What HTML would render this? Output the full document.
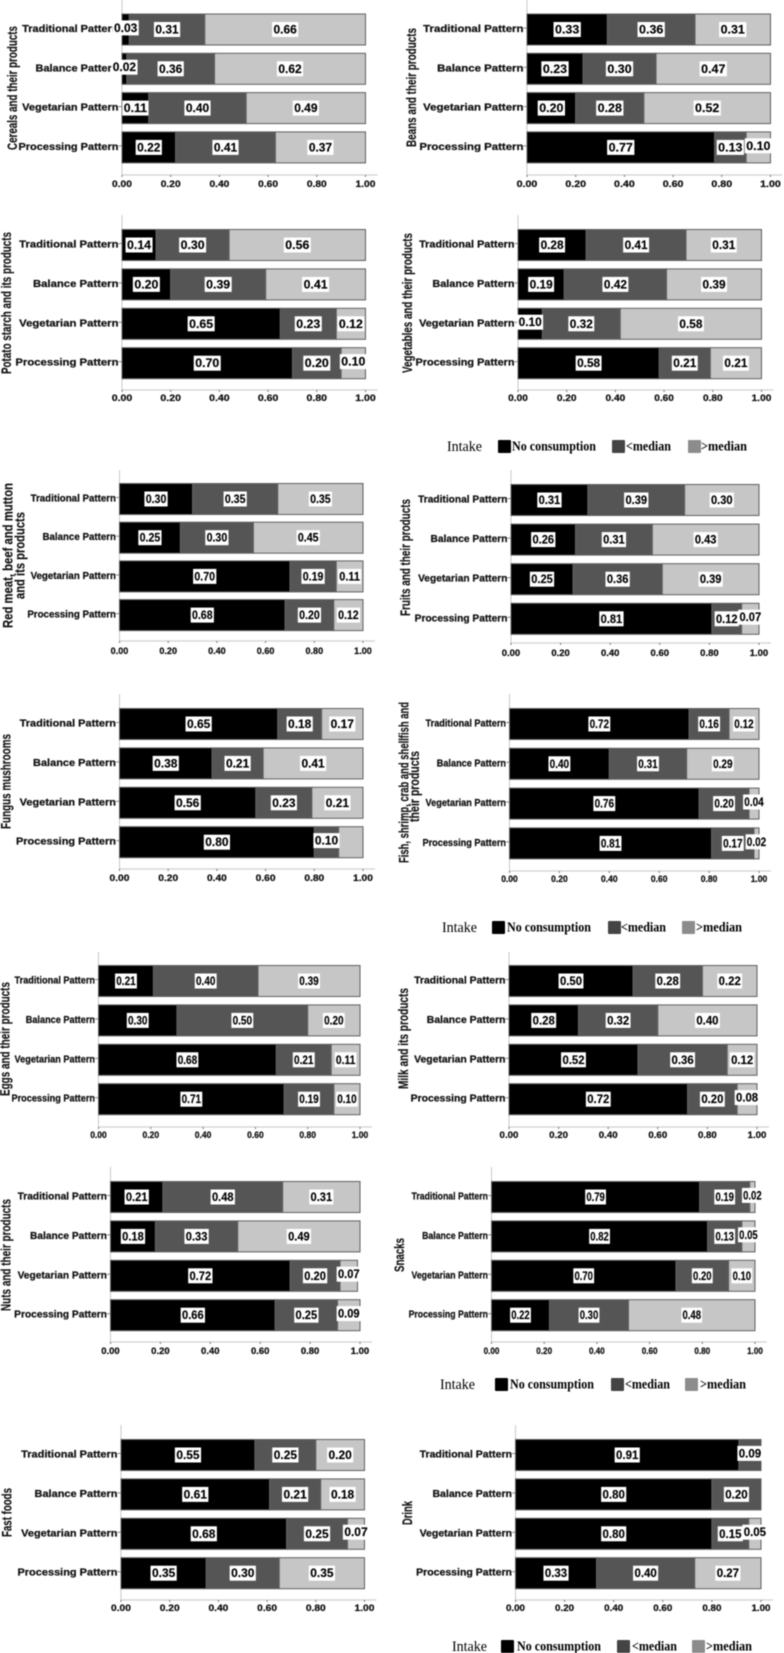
<!DOCTYPE html>
<html lang="en">
<head>
<meta charset="utf-8">
<title>Food intake by dietary pattern</title>
<style>
html,body{margin:0;padding:0;background:#fff;}
#figure{display:block;filter:blur(0.4px);}
text{font-family:"Liberation Sans",sans-serif;fill:#000;}
.cat{font-size:9.8px;font-weight:700;text-anchor:end;dominant-baseline:central;fill:#111;stroke:#111;stroke-width:.25px;}
.tick{font-size:9.3px;font-weight:700;text-anchor:middle;dominant-baseline:central;fill:#111;stroke:#111;stroke-width:.25px;}
.val{font-size:12px;font-weight:700;text-anchor:middle;dominant-baseline:central;stroke:#000;stroke-width:.15px;}
.ytitle{font-size:13.5px;font-weight:700;text-anchor:middle;fill:#111;stroke:#111;stroke-width:.15px;}
.leg{font-family:"Liberation Serif",serif;font-size:14px;font-weight:700;dominant-baseline:central;}
.legt{font-family:"Liberation Serif",serif;font-size:15px;dominant-baseline:central;}
</style>
</head>
<body>
<svg id="figure" xmlns="http://www.w3.org/2000/svg" width="784" height="1653" viewBox="0 0 784 1653"></svg>
<script>
const categories = ['Traditional Pattern', 'Balance Pattern', 'Vegetarian Pattern', 'Processing Pattern'];
const seriesNames = ['No consumption', '<median', '>median'];
const tickValues = [0, 0.2, 0.4, 0.6, 0.8, 1];

const cerealsNone = [0.03, 0.02, 0.11, 0.22];
const cerealsBelow = [0.31, 0.36, 0.40, 0.41];
const cerealsAbove = [0.66, 0.62, 0.49, 0.37];
const beansNone = [0.33, 0.23, 0.20, 0.77];
const beansBelow = [0.36, 0.30, 0.28, 0.13];
const beansAbove = [0.31, 0.47, 0.52, 0.10];
const potatoNone = [0.14, 0.20, 0.65, 0.70];
const potatoBelow = [0.30, 0.39, 0.23, 0.20];
const potatoAbove = [0.56, 0.41, 0.12, 0.10];
const vegetablesNone = [0.28, 0.19, 0.10, 0.58];
const vegetablesBelow = [0.41, 0.42, 0.32, 0.21];
const vegetablesAbove = [0.31, 0.39, 0.58, 0.21];
const redMeatNone = [0.30, 0.25, 0.70, 0.68];
const redMeatBelow = [0.35, 0.30, 0.19, 0.20];
const redMeatAbove = [0.35, 0.45, 0.11, 0.12];
const fruitsNone = [0.31, 0.26, 0.25, 0.81];
const fruitsBelow = [0.39, 0.31, 0.36, 0.12];
const fruitsAbove = [0.30, 0.43, 0.39, 0.07];
const fungusNone = [0.65, 0.38, 0.56, 0.80];
const fungusBelow = [0.18, 0.21, 0.23, 0.10];
const fungusAbove = [0.17, 0.41, 0.21, 0.10];
const fishNone = [0.72, 0.40, 0.76, 0.81];
const fishBelow = [0.16, 0.31, 0.20, 0.17];
const fishAbove = [0.12, 0.29, 0.04, 0.02];
const eggsNone = [0.21, 0.30, 0.68, 0.71];
const eggsBelow = [0.40, 0.50, 0.21, 0.19];
const eggsAbove = [0.39, 0.20, 0.11, 0.10];
const milkNone = [0.50, 0.28, 0.52, 0.72];
const milkBelow = [0.28, 0.32, 0.36, 0.20];
const milkAbove = [0.22, 0.40, 0.12, 0.08];
const nutsNone = [0.21, 0.18, 0.72, 0.66];
const nutsBelow = [0.48, 0.33, 0.20, 0.25];
const nutsAbove = [0.31, 0.49, 0.07, 0.09];
const snacksNone = [0.79, 0.82, 0.70, 0.22];
const snacksBelow = [0.19, 0.13, 0.20, 0.30];
const snacksAbove = [0.02, 0.05, 0.10, 0.48];
const fastFoodsNone = [0.55, 0.61, 0.68, 0.35];
const fastFoodsBelow = [0.25, 0.21, 0.25, 0.30];
const fastFoodsAbove = [0.20, 0.18, 0.07, 0.35];
const drinkNone = [0.91, 0.80, 0.80, 0.33];
const drinkBelow = [0.09, 0.20, 0.15, 0.40];
const drinkAbove = [0, 0, 0.05, 0.27];

const panels = [
  {id:'cereals', s:[cerealsNone,cerealsBelow,cerealsAbove], w:97, x0:122, x1:365.5, r0:29.5, step:39.3, axis:175, tick:184, top:0, titles:[{t:'Cereals and their products',x:17,a:26,b:150}], raised:['0:0','1:0']},
  {id:'beans', s:[beansNone,beansBelow,beansAbove], w:101, x0:527, x1:770.5, r0:29.5, step:39.3, axis:175, tick:184, top:0, titles:[{t:'Beans and their products',x:416,a:28,b:147}], raised:['3:2']},
  {id:'potato-starch', s:[potatoNone,potatoBelow,potatoAbove], w:100, x0:122, x1:365.5, r0:245, step:39.4, axis:390, tick:398, top:215, titles:[{t:'Potato starch and its products',x:11,a:232,b:374}], raised:['3:2']},
  {id:'vegetables', s:[vegetablesNone,vegetablesBelow,vegetablesAbove], w:96, x0:518, x1:761.5, r0:245, step:39.4, axis:390, tick:398, top:215, titles:[{t:'Vegetables and their products',x:412,a:233,b:373}], raised:['2:0']},
  {id:'red-meat', s:[redMeatNone,redMeatBelow,redMeatAbove], w:86, x0:119.5, x1:363, r0:499, step:38.7, axis:641, tick:651, top:470, titles:[{t:'Red meat, beef and mutton',x:12.5,a:483,b:628},{t:'and its products',x:24.5,a:512,b:599}], raised:[]},
  {id:'fruits', s:[fruitsNone,fruitsBelow,fruitsAbove], w:90, x0:511, x1:759, r0:500, step:39.6, axis:643, tick:653, top:470, titles:[{t:'Fruits and their products',x:410,a:499,b:616}], raised:['3:2']},
  {id:'fungus', s:[fungusNone,fungusBelow,fungusAbove], w:97, x0:119.5, x1:363, r0:724, step:39.4, axis:869, tick:878, top:694, titles:[{t:'Fungus mushrooms',x:10.5,a:734,b:829}], raised:['3:1'], hidden:['3:2']},
  {id:'fish', s:[fishNone,fishBelow,fishAbove], w:81, x0:509.5, x1:759, r0:724, step:39.8, axis:871, tick:879, top:694, titles:[{t:'Fish, shrimp, crab and shellfish and',x:408.5,a:702,b:863},{t:'their products',x:419,a:751,b:822}], raised:['2:2','3:2']},
  {id:'eggs', s:[eggsNone,eggsBelow,eggsAbove], w:81, x0:98.5, x1:360, r0:981, step:39.4, axis:1127, tick:1135, top:952, titles:[{t:'Eggs and their products',x:9.5,a:982,b:1096}], raised:[]},
  {id:'milk', s:[milkNone,milkBelow,milkAbove], w:92, x0:509, x1:757, r0:981, step:39.4, axis:1127, tick:1135, top:952, titles:[{t:'Milk and its products',x:408,a:988,b:1089}], raised:['3:2']},
  {id:'nuts', s:[nutsNone,nutsBelow,nutsAbove], w:90, x0:110.5, x1:360, r0:1197, step:39.4, axis:1342, tick:1351, top:1167, titles:[{t:'Nuts and their products',x:10.5,a:1199,b:1311}], raised:['2:2','3:2']},
  {id:'snacks', s:[snacksNone,snacksBelow,snacksAbove], w:77, x0:491.5, x1:755, r0:1197, step:39.4, axis:1342, tick:1351, top:1167, titles:[{t:'Snacks',x:404,a:1238,b:1272}], raised:['0:2','1:2']},
  {id:'fast-foods', s:[fastFoodsNone,fastFoodsBelow,fastFoodsAbove], w:97, x0:121, x1:364.5, r0:1455, step:39.4, axis:1600, tick:1608, top:1425, titles:[{t:'Fast foods',x:11.5,a:1488,b:1537}], raised:['2:2']},
  {id:'drink', s:[drinkNone,drinkBelow,drinkAbove], w:93, x0:515.5, x1:761, r0:1455, step:39.4, axis:1600, tick:1608, top:1425, titles:[{t:'Drink',x:412,a:1501,b:1525}], raised:['0:1','2:2']}
];

const legends = [
  {y:447, intake:447, s:[498,612,688], l:[512,626,701]},
  {y:928, intake:442, s:[492,608,682], l:[507,621,696]},
  {y:1385, intake:440, s:[495,611,685], l:[510,625,700]},
  {y:1647, intake:452, s:[501,617,692], l:[517,632,706]}
];

const barColors = ['#000000', '#555555', '#c6c6c6'];
const legendColors = ['#000000', '#444444', '#8c8c8c'];
const legendWidths = [84, 45, 46];

const svg = document.getElementById('figure');
const NS = 'http://www.w3.org/2000/svg';

function make(tag, parent) {
  const el = document.createElementNS(NS, tag);
  parent.appendChild(el);
  return el;
}
function setAll(el, props) {
  for (const k in props) el.setAttribute(k, props[k]);
}

panels.forEach(function (p) {
  const xScale = function (v) { return p.x0 + (p.x1 - p.x0) * v; };
  const yScale = function (i) { return p.r0 + p.step * i; };
  const sx = p.w / 100;

  const g = make('g', svg);
  
  

  const yAxis = make('line', g);
  
  
  setAll(yAxis, {x1:p.x0, x2:p.x0, y1:p.top, y2:p.axis, stroke:'#c8c8c8', 'stroke-width':1});

  const xAxis = make('line', g);
  
  
  setAll(xAxis, {x1:p.x0, x2:p.x1 + 12, y1:p.axis, y2:p.axis, stroke:'#d0d0d0', 'stroke-width':1.2});

  tickValues.forEach(function (v) {
    const mark = make('line', g);
    
    
    setAll(mark, {x1:xScale(v), x2:xScale(v), y1:p.axis, y2:p.axis + 2, stroke:'#777', 'stroke-width':1});
    const label = make('text', g);
    
    
    setAll(label, {class:'tick', x:xScale(v), y:p.tick, textLength:20.5 * sx, lengthAdjust:'spacingAndGlyphs'});
    label.textContent = v.toFixed(2);
  });

  categories.forEach(function (c, i) {
    const label = make('text', g);
    
    
    setAll(label, {class:'cat', x:p.x0 - 3.5, y:yScale(i)});
    label.textContent = c;
    const natural = label.getComputedTextLength();
    setAll(label, {textLength:natural * p.w / 86.6, lengthAdjust:'spacingAndGlyphs'});
    const mark = make('line', g);
    
    
    setAll(mark, {x1:p.x0 - 3.5, x2:p.x0, y1:yScale(i) - 1.5, y2:yScale(i) - 1.5, stroke:'#888', 'stroke-width':1});
  });

  categories.forEach(function (c, i) {
    let cum = 0;
    p.s.forEach(function (series, k) {
      const v = series[i];
      if (v > 0) {
        const bar = make('rect', g);
        
        
        setAll(bar, {x:xScale(cum), y:yScale(i) - 15.5, width:xScale(cum + v) - xScale(cum), height:31, fill:barColors[k], stroke:'#606060', 'stroke-width':1});
      }
      cum += v;
    });
  });

  categories.forEach(function (c, i) {
    let cum = 0;
    p.s.forEach(function (series, k) {
      const v = series[i];
      const key = i + ':' + k;
      if (v > 0 && !(p.hidden && p.hidden.indexOf(key) >= 0)) {
        const cx = xScale(cum + v / 2);
        const cy = yScale(i) - (p.raised.indexOf(key) >= 0 ? 1.6 : 0);
        const boxW = 27 * sx;
        const box = make('rect', g);
        
        
        setAll(box, {x:cx - boxW / 2, y:cy - 7.5, width:boxW, height:15, fill:'#fff'});
        const label = make('text', g);
        
        
        setAll(label, {class:'val', x:cx, y:cy, textLength:24 * sx, lengthAdjust:'spacingAndGlyphs'});
        label.textContent = v.toFixed(2);
      }
      cum += v;
    });
  });

  p.titles.forEach(function (t) {
    const title = make('text', g);
    
    
    const cy = (t.a + t.b) / 2;
    setAll(title, {class:'ytitle', x:t.x, y:cy, transform:'rotate(-90 ' + t.x + ' ' + cy + ')', textLength:t.b - t.a, lengthAdjust:'spacingAndGlyphs'});
    title.textContent = t.t;
  });
});

legends.forEach(function (lg) {
  const g = make('g', svg);
  
  
  const head = make('text', g);
  
  
  setAll(head, {class:'legt', x:lg.intake, y:lg.y, textLength:35, lengthAdjust:'spacingAndGlyphs'});
  head.textContent = 'Intake';
  seriesNames.forEach(function (name, k) {
    const swatch = make('rect', g);
    
    
    setAll(swatch, {x:lg.s[k], y:lg.y - 7, width:13, height:13, rx:1, fill:legendColors[k]});
    const label = make('text', g);
    
    
    setAll(label, {class:'leg', x:lg.l[k], y:lg.y, textLength:legendWidths[k], lengthAdjust:'spacingAndGlyphs'});
    label.textContent = name;
  });
});
</script>
</body>
</html>
